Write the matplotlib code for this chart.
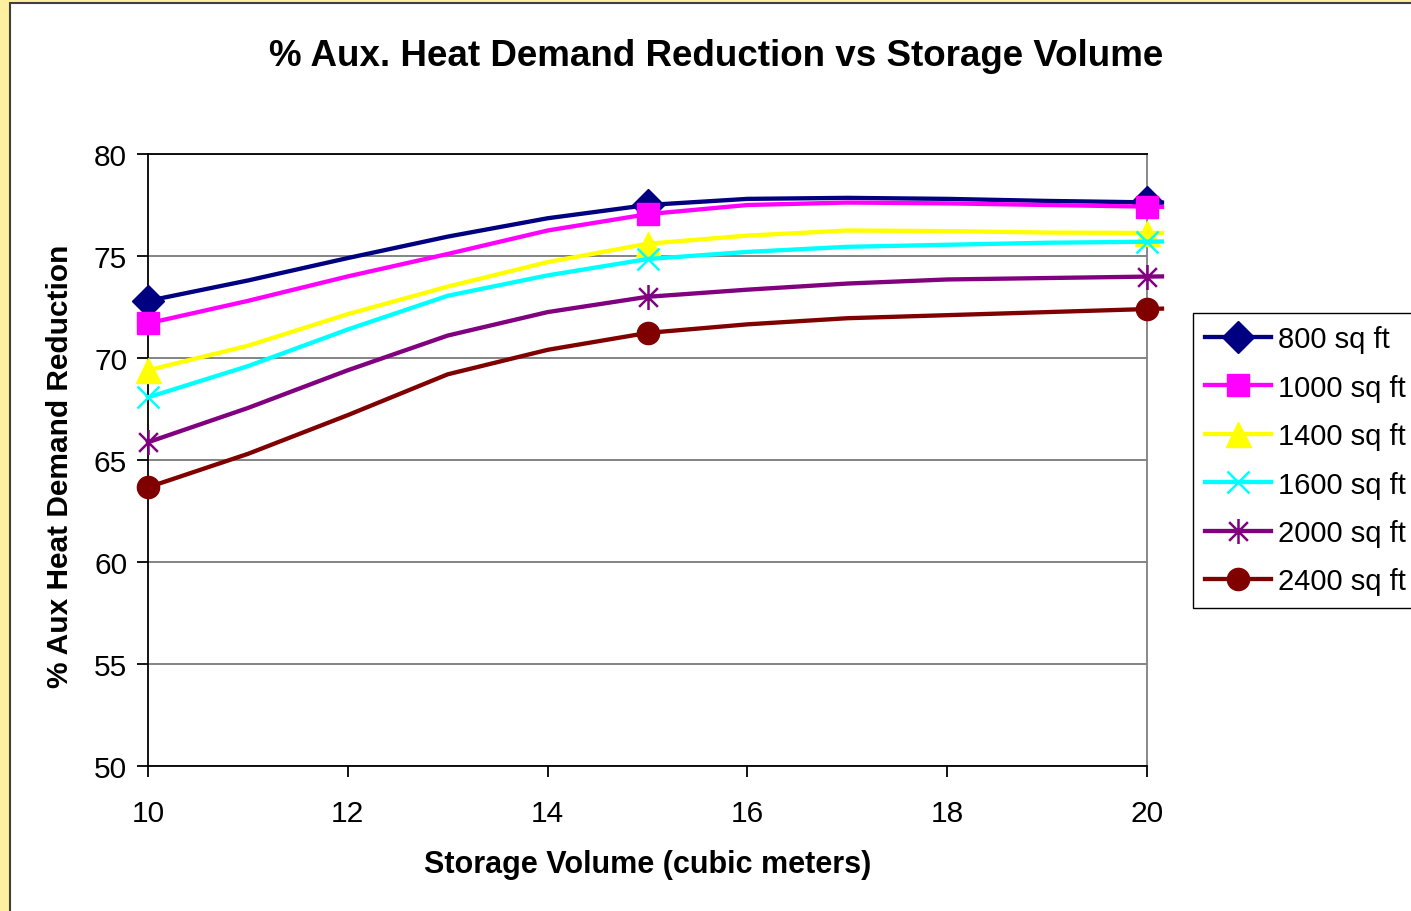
import matplotlib
matplotlib.use("Agg")
import matplotlib.pyplot as plt
from matplotlib.path import Path
from matplotlib.patches import Rectangle

plt.rcParams['font.family'] = ['Liberation Sans', 'DejaVu Sans']

# Storage volume (cubic meters)
volume = [10, 11, 12, 13, 14, 15, 16, 17, 18, 19, 20, 20.15]
marker_volumes = [10, 15, 20]

labels = ["800 sq ft", "1000 sq ft", "1400 sq ft", "1600 sq ft", "2000 sq ft", "2400 sq ft"]

# % auxiliary heat demand reduction for each collector area
red_800 = [72.8, 73.8, 74.9, 75.95, 76.85, 77.5, 77.8, 77.85, 77.8, 77.7, 77.63, 77.62]
red_1000 = [71.7, 72.8, 74.0, 75.1, 76.25, 77.05, 77.5, 77.62, 77.58, 77.5, 77.42, 77.41]
red_1400 = [69.4, 70.6, 72.15, 73.5, 74.7, 75.6, 76.0, 76.25, 76.22, 76.15, 76.13, 76.13]
red_1600 = [68.07, 69.6, 71.4, 73.05, 74.05, 74.85, 75.2, 75.45, 75.55, 75.65, 75.7, 75.71]
red_2000 = [65.87, 67.55, 69.4, 71.1, 72.25, 73.0, 73.35, 73.65, 73.85, 73.92, 73.99, 74.0]
red_2400 = [63.66, 65.3, 67.2, 69.2, 70.4, 71.23, 71.65, 71.95, 72.1, 72.25, 72.4, 72.42]

series = [red_800, red_1000, red_1400, red_1600, red_2000, red_2400]
colors = ["#000080", "#FF00FF", "#FFFF00", "#00FFFF", "#800080", "#800000"]

# six-armed asterisk marker (vertical bar plus an X)
star = Path([(0, -1), (0, 1), (-0.75, -0.75), (0.75, 0.75), (-0.75, 0.75), (0.75, -0.75)],
            [Path.MOVETO, Path.LINETO, Path.MOVETO, Path.LINETO, Path.MOVETO, Path.LINETO])

marker_styles = [
    dict(marker="D", markersize=16),
    dict(marker="s", markersize=16),
    dict(marker="^", markersize=18),
    dict(marker="x", markersize=16, markeredgewidth=1.8),
    dict(marker=star, markersize=18, markeredgewidth=1.8),
    dict(marker="o", markersize=16),
]

W, H = 1411, 912
fig = plt.figure(figsize=(W / 100, H / 100), dpi=100, facecolor="#FFF0A0")

# white chart area with dark frame
fig.patches.append(Rectangle((10 / W, -0.1), 1.2, (H - 3.5) / H + 0.1, transform=fig.transFigure,
                             facecolor="white", edgecolor="#404040", linewidth=1.5, zorder=-5))

ax = fig.add_axes([148 / W, (H - 767) / H, (1147 - 148) / W, (767 - 155) / H])
ax.set_zorder(2)
ax.set_facecolor("white")

mark_idx = [volume.index(v) for v in marker_volumes]
for vals, col, lab, ms in zip(series, colors, labels, marker_styles):
    ax.plot(volume, vals, color=col, linewidth=3.1, label=lab, markevery=mark_idx,
            markerfacecolor=col, markeredgecolor=col, clip_on=False, zorder=3, **ms)

ax.set_xlim(10, 20)
ax.set_ylim(50, 80)
ax.set_xticks([10, 12, 14, 16, 18, 20])
ax.set_yticks([50, 55, 60, 65, 70, 75, 80])
ax.yaxis.grid(True, color="#7a7a7a", linewidth=1.3, zorder=1)
ax.set_axisbelow(True)

ax.spines["right"].set_color("#808080")
ax.spines["right"].set_linewidth(1.3)
for side in ["left", "bottom", "top"]:
    ax.spines[side].set_color("black")
    ax.spines[side].set_linewidth(1.3)

ax.tick_params(axis="both", direction="out", length=8, width=1.3, color="black",
               labelsize=21.5)
ax.tick_params(axis="x", pad=15.5)
ax.tick_params(axis="y", pad=7)

fig.text(716 / W, 1 - 57 / H, "% Aux. Heat Demand Reduction vs Storage Volume",
         ha="center", va="center", fontsize=26.5, fontweight="bold")
fig.text(648 / W, 1 - 865 / H, "Storage Volume (cubic meters)",
         ha="center", va="center", fontsize=22, fontweight="bold")
fig.text(60 / W, 1 - 466 / H, "% Aux Heat Demand Reduction",
         ha="center", va="center", fontsize=21.5, fontweight="bold", rotation=90)

leg = fig.legend(loc="upper left", bbox_to_anchor=(1193 / W, 1 - 314 / H),
                 bbox_transform=fig.transFigure, borderaxespad=0, fontsize=21,
                 frameon=True, fancybox=False, edgecolor="black", framealpha=1,
                 handlelength=2.25, handletextpad=0.25, labelspacing=0.7,
                 borderpad=0.42)
leg.get_frame().set_linewidth(1.0)
leg.set_zorder(5)

fig.savefig("out.png", dpi=100, facecolor=fig.get_facecolor())
